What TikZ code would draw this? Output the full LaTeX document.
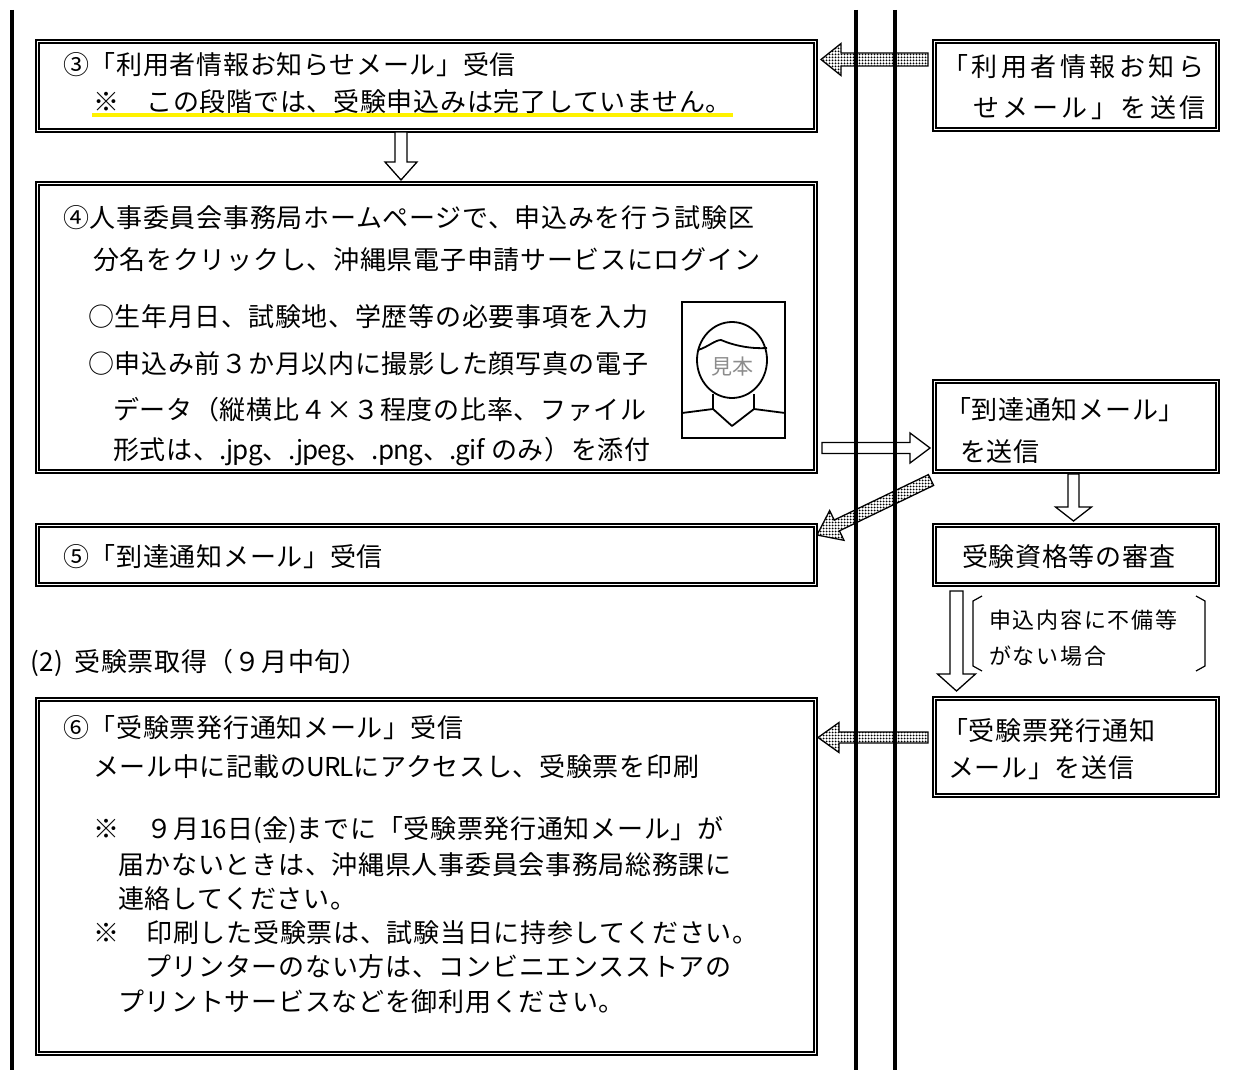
\documentclass[tikz,border=0pt]{standalone}
\usepackage{fontspec}
\setmainfont{Noto Sans CJK JP}[LetterSpace=2.7]
\usetikzlibrary{calc,patterns,fit}
\definecolor{hiyellow}{RGB}{255,242,0}
\definecolor{sampgrey}{RGB}{140,140,140}
\pgfdeclarepatternformonly{finedots}{\pgfqpoint{-1pt}{-1pt}}{\pgfqpoint{4pt}{4pt}}{\pgfqpoint{3pt}{3pt}}%
  {\pgfpathcircle{\pgfqpoint{1.5pt}{1.5pt}}{1pt}\pgfusepath{fill}}
\newcommand\lat[1]{{\addfontfeature{LetterSpace=-3}#1}}
\tikzset{
  outerbox/.style={draw, line width=2pt, inner sep=0pt},
  innerline/.style={line width=1.2pt},
  txt/.style={anchor=west, inner sep=0pt, font=\fontsize{26}{30}\selectfont},
  wtxt/.style={anchor=west, inner sep=0pt, font=\fontsize{26}{30}\selectfont\addfontfeature{LetterSpace=13.5}},
  stxt/.style={anchor=west, inner sep=0pt, font=\fontsize{22}{26}\selectfont\addfontfeature{LetterSpace=8}},
  hollowarrow/.style={draw, line width=1.3pt, fill=white, line join=miter},
  dotarrow/.style={draw, line width=1.3pt, pattern=finedots, line join=miter},
  vline/.style={line width=3.5pt},
  photoline/.style={line width=1.8pt, line join=round},
  bracketline/.style={line width=1.2pt},
}
\newcommand\innerframe[1]{%
  \draw[innerline] ([shift={(4,4)}]#1.north west) rectangle ([shift={(-4,-4)}]#1.south east);}
% #1 style, #2 tail, #3 tip, #4 shaft half width, #5 head half width, #6 head length
\newcommand\fatarrow[6]{%
  \coordinate (hb) at ($(#3)!#6!(#2)$);
  \path[#1] ($(#2)!#4!90:(#3)$) -- ($(hb)!#4!90:(#3)$) -- ($(hb)!#5!90:(#3)$) -- (#3)
     -- ($(hb)!#5!-90:(#3)$) -- ($(hb)!#4!-90:(#3)$) -- ($(#2)!#4!-90:(#3)$) -- cycle;}
\begin{document}
\begin{tikzpicture}[x=1pt,y=-1pt]
\useasboundingbox[fill=white] (0,0) rectangle (1233,1070);

% ---------- boxes ----------
\node[outerbox, fit={(36,40) (817,132)}] (B3) {};
\innerframe{B3}
\node[outerbox, fit={(933,40) (1219,131)}] (R1) {};
\innerframe{R1}
\node[outerbox, fit={(36,182) (817,473)}] (B4) {};
\innerframe{B4}
\node[outerbox, fit={(933,380) (1219,473)}] (R2) {};
\innerframe{R2}
\node[outerbox, fit={(36,524) (817,586)}] (B5) {};
\innerframe{B5}
\node[outerbox, fit={(933,524) (1219,586)}] (R3) {};
\innerframe{R3}
\node[outerbox, fit={(36,698) (817,1055)}] (B6) {};
\innerframe{B6}
\node[outerbox, fit={(933,697) (1219,797)}] (R4) {};
\innerframe{R4}

% ---------- texts ----------
\node[txt] (t31) at (63,65) {③「利用者情報お知らせメール」受信};
\node[txt] (t32) at (93,102) {※　この段階では、受験申込みは完了していません。};
\draw[hiyellow, line width=3.5pt] (92,115) -- (733,115);

\node[wtxt] (r11) at (942,67) {「利用者情報お知ら};
\node[wtxt] (r12) at (973,108) {せメール」を送信};

\node[txt] (t41) at (63,218) {④人事委員会事務局ホームページで、申込みを行う試験区};
\node[txt] (t42) at (93,260) {分名をクリックし、沖縄県電子申請サービスにログイン};
\node[txt] (t43) at (88,317) {○生年月日、試験地、学歴等の必要事項を入力};
\node[txt] (t44) at (88,364) {○申込み前３か月以内に撮影した顔写真の電子};
\node[txt] (t45) at (113,410) {データ（縦横比４×３程度の比率、ファイル};
\node[txt] (t46) at (113,452) {形式は、\lat{.jpg}、\lat{.jpeg}、\lat{.png}、\lat{.gif} のみ）を添付};

\node[txt] (r21) at (945,410) {「到達通知メール」};
\node[txt] (r22) at (960,452) {を送信};

\node[txt] (t51) at (63,557) {⑤「到達通知メール」受信};
\node[txt] (r31) at (962,557) {受験資格等の審査};

\node[stxt] (c1) at (989,620) {申込内容に不備等};
\node[stxt] (c2) at (989,656) {がない場合};
\draw[bracketline] (982,596) -- (973,601) -- (973,666) -- (982,671);
\draw[bracketline] (1196,596) -- (1205,601) -- (1205,666) -- (1196,671);

\node[txt] (h2) at (30,663) {(2)\, 受験票取得（９月中旬）};

\node[txt] (t61) at (63,728) {⑥「受験票発行通知メール」受信};
\node[txt] (t62) at (93,767) {メール中に記載の\lat{URL}にアクセスし、受験票を印刷};
\node[txt] (t63) at (93,830) {※　９月\lat{16}日\lat{(}金\lat{)}までに「受験票発行通知メール」が};
\node[txt] (t64) at (118,865) {届かないときは、沖縄県人事委員会事務局総務課に};
\node[txt] (t65) at (118,899) {連絡してください。};
\node[txt] (t66) at (93,933) {※　印刷した受験票は、試験当日に持参してください。};
\node[txt] (t67) at (145,967) {プリンターのない方は、コンビニエンスストアの};
\node[txt] (t68) at (118,1002) {プリントサービスなどを御利用ください。};

\node[txt] (r41) at (942,731) {「受験票発行通知};
\node[txt] (r42) at (948,768) {メール」を送信};

% ---------- photo sample ----------
\node[draw, line width=2.2pt, inner sep=0pt, fit={(682,302) (785,438)}] (P) {};
\draw[photoline] (732,360) ellipse [x radius=35, y radius=38];
\draw[photoline] (698,350) .. controls (708,347) and (715,340) .. (721,340)
                 .. controls (735,346) and (752,349) .. (767,348);
\draw[photoline] (713,394) -- (713,409) -- (682,413);
\draw[photoline] (754,394) -- (754,409) -- (785,413);
\draw[photoline] (713,409) -- (732,426) -- (754,409);
\node[inner sep=0pt, text=sampgrey, font=\fontsize{21}{25}\selectfont\addfontfeature{LetterSpace=0}] (S) at (732,367) {見本};

% ---------- arrows ----------
\coordinate (a1s) at (928,59.5);  \coordinate (a1e) at (821,59.5);
\fatarrow{dotarrow}{a1s}{a1e}{6.5pt}{16pt}{20pt}
\coordinate (a2s) at (401,132);   \coordinate (a2e) at (401,180);
\fatarrow{hollowarrow}{a2s}{a2e}{6pt}{16pt}{18pt}
\coordinate (a3s) at (822,448);   \coordinate (a3e) at (930,448);
\fatarrow{hollowarrow}{a3s}{a3e}{5.5pt}{15pt}{20pt}
\coordinate (a4s) at (931,480);   \coordinate (a4e) at (817,535);
\fatarrow{dotarrow}{a4s}{a4e}{6pt}{16.5pt}{22pt}
\coordinate (a5s) at (1073.5,474); \coordinate (a5e) at (1073.5,521);
\fatarrow{hollowarrow}{a5s}{a5e}{5.5pt}{18pt}{14pt}
\coordinate (a6s) at (956.5,591); \coordinate (a6e) at (956.5,691);
\fatarrow{hollowarrow}{a6s}{a6e}{6.5pt}{19pt}{17pt}
\coordinate (a7s) at (928,737.5); \coordinate (a7e) at (818,737.5);
\fatarrow{dotarrow}{a7s}{a7e}{5.5pt}{15pt}{21pt}

% ---------- vertical lines ----------
\coordinate (l0t) at (11.5,10);  \coordinate (l0b) at (11.5,1070);
\coordinate (l1t) at (856,10);   \coordinate (l1b) at (856,1070);
\coordinate (l2t) at (895,10);   \coordinate (l2b) at (895,1070);
\draw[line width=4pt] (l0t) -- (l0b);
\draw[vline] (l1t) -- (l1b);
\draw[vline] (l2t) -- (l2b);
\end{tikzpicture}
\end{document}
